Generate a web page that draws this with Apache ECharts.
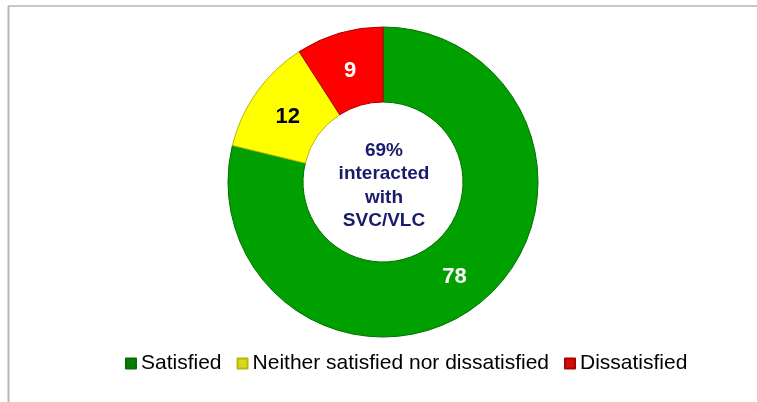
<!DOCTYPE html>
<html><head><meta charset="utf-8">
<script src="https://cdn.jsdelivr.net/npm/echarts@6/dist/echarts.min.js"></script>
<style>html,body{margin:0;padding:0;background:#fff}#c{width:757px;height:402px}</style>
</head><body><div id="c"></div>
<script>
const categories = ['Satisfied', 'Neither satisfied nor dissatisfied', 'Dissatisfied'];
const values = [78, 12, 9];
const colors = ['#00A000', '#FFFF00', '#FF0000'];
const borderColors = ['#007000', '#B8B800', '#B00000'];
const labelColors = ['#FFFFFF', '#000000', '#FFFFFF'];
const legendIconColors = ['#0A7A0A', '#D8D820', '#D01010'];
const centerText = '69%\ninteracted\nwith\nSVC/VLC';

const labelStyle = [
  {color: '#FFFFFF', offset: [-3, 0]},
  {color: '#000000', offset: [3, 5]},
  {color: '#FFFFFF', offset: [1, 5]}
];

const chart = echarts.init(document.getElementById('c'), null, {renderer: 'canvas'});
chart.setOption({
  animation: false,
  backgroundColor: '#fff',
  graphic: [
    {type: 'line', shape: {x1: 8, y1: 6, x2: 757, y2: 6}, style: {stroke: '#c8c8c8', lineWidth: 2}, z: 0},
    {type: 'line', shape: {x1: 8.5, y1: 6, x2: 8.5, y2: 402}, style: {stroke: '#b8b8b8', lineWidth: 2}, z: 0},
    {type: 'text', z: 10,
      style: {x: 384, y: 186, text: centerText, fill: '#1B1B6B', font: 'bold 19px "Liberation Sans", Arial, sans-serif',
        align: 'center', verticalAlign: 'middle', lineHeight: 23.5}}
  ],
  legend: {
    data: categories.map((n, i) => ({name: n, itemStyle: {color: legendIconColors[i]}})),
    top: 348,
    left: 120,
    icon: 'rect',
    itemWidth: 10, itemHeight: 10,
    itemGap: 15,
    textStyle: {fontSize: 21, color: '#000', fontFamily: '"Liberation Sans", Arial, sans-serif'}
  },
  series: [{
    type: 'pie',
    center: [383, 182],
    radius: [80, 155],
    startAngle: 90,
    clockwise: true,
    avoidLabelOverlap: false,
    label: {show: true, position: 'inside', fontSize: 22, fontWeight: 'bold', fontFamily: '"Liberation Sans", Arial, sans-serif', formatter: '{c}'},
    labelLine: {show: false},
    data: categories.map((n, i) => ({
      name: n, value: values[i],
      itemStyle: {color: colors[i], borderColor: borderColors[i], borderWidth: 1},
      label: labelStyle[i]
    }))
  }]
});
</script></body></html>
